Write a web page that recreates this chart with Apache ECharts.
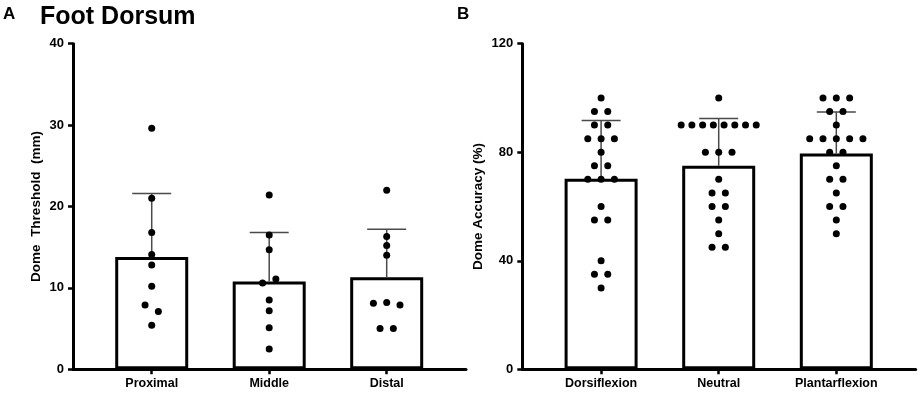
<!DOCTYPE html>
<html>
<head>
<meta charset="utf-8">
<script src="https://cdn.jsdelivr.net/npm/echarts@6/dist/echarts.min.js"></script>
<style>
html,body{margin:0;padding:0;background:#fff;}
#c{width:920px;height:393px;}
</style>
</head>
<body>
<div id="c"></div>
<script>
// ---- Data ----
const catsA = ['Proximal', 'Middle', 'Distal'];
const proximal = [29.6, 21.0, 16.8, 14.1, 12.8, 10.2, 7.9, 7.1, 5.4];
const middle = [21.4, 16.5, 14.7, 10.6, 11.1, 8.5, 7.2, 5.1, 2.5];
const distal = [22.0, 16.3, 15.2, 14.0, 8.1, 8.2, 7.9, 5.0, 5.0];
const meansA = [13.8, 10.8, 11.3];
const sdA = [7.8, 6.0, 5.9];
const ticksA = [0, 10, 20, 30, 40];

const catsB = ['Dorsiflexion', 'Neutral', 'Plantarflexion'];
const dorsiflexion = [100, 95, 95, 90, 90, 85, 85, 85, 80, 75, 75, 70, 70, 70, 60, 55, 55, 40, 35, 35, 30];
const neutral = [100, 90, 90, 90, 90, 90, 90, 90, 90, 80, 80, 80, 70, 65, 65, 60, 60, 55, 50, 45, 45];
const plantarflexion = [100, 100, 100, 95, 95, 90, 85, 85, 85, 85, 85, 80, 80, 75, 70, 70, 65, 60, 60, 55, 50];
const meansB = [70.2, 75.0, 79.5];
const sdB = [21.5, 17.4, 15.3];
const ticksB = [0, 40, 80, 120];

// ---- Layout helpers ----
const FONT = 'Liberation Sans, Arial, sans-serif';
const PX_X = 117.5;          // pixels per category unit
const DOT_STEP = 13.3;       // horizontal spacing of dots (px)
const MAX_SPAN = 75;         // max horizontal spread (px)
const OVERLAP = 7.5;         // vertical collision threshold (px)

function swarm(groups, pxPerUnitY) {
  const out = [];
  groups.forEach((vals, ci) => {
    const idx = vals.map((v, i) => i).sort((a, b) => vals[b] - vals[a] || a - b);
    let k = 0;
    while (k < idx.length) {
      const start = vals[idx[k]];
      const grp = [idx[k]];
      k++;
      while (k < idx.length && (start - vals[idx[k]]) * pxPerUnitY < OVERLAP) { grp.push(idx[k]); k++; }
      grp.sort((a, b) => a - b);
      const n = grp.length;
      const step = n > 1 ? Math.min(DOT_STEP, MAX_SPAN / (n - 1)) : 0;
      grp.forEach((g, j) => out.push([ci + (j - (n - 1) / 2) * step / PX_X, vals[g]]));
    }
  });
  return out;
}

function errRender(params, api) {
  const x = api.value(0), m = api.value(1), s = api.value(2);
  const p0 = api.coord([x, m]);
  const p1 = api.coord([x, m + s]);
  const st = { stroke: '#4a4a4a', lineWidth: 1.5 };
  return {
    type: 'group',
    children: [
      { type: 'line', shape: { x1: p0[0], y1: p0[1], x2: p1[0], y2: p1[1] }, style: st },
      { type: 'line', shape: { x1: p1[0] - 19.5, y1: p1[1], x2: p1[0] + 19.5, y2: p1[1] }, style: st }
    ]
  };
}

function xAxisDef(gi, cats) {
  return {
    type: 'value', gridIndex: gi, min: -0.67, max: 2.675,
    splitLine: { show: false },
    axisLine: { show: true, onZero: false, lineStyle: { color: '#000', width: 3 } },
    axisTick: { show: true, customValues: [0, 1, 2], length: 5, lineStyle: { color: '#000', width: 2.5 } },
    axisLabel: {
      customValues: [0, 1, 2], formatter: v => cats[Math.round(v)],
      fontSize: 12.5, fontWeight: 'bold', color: '#000', fontFamily: FONT, margin: 8
    }
  };
}

function yAxisDef(gi, ticks, name, gap) {
  return {
    type: 'value', gridIndex: gi, min: ticks[0], max: ticks[ticks.length - 1], interval: ticks[1] - ticks[0],
    splitLine: { show: false },
    axisLine: { show: true, onZero: false, lineStyle: { color: '#000', width: 3 } },
    axisTick: { show: true, length: 5, lineStyle: { color: '#000', width: 2.5 } },
    axisLabel: { fontSize: 13, fontWeight: 'bold', color: '#000', fontFamily: FONT, margin: 9 },
    name: name, nameLocation: 'middle', nameGap: gap,
    nameTextStyle: { fontSize: 13.5, fontWeight: 'bold', color: '#000', fontFamily: FONT }
  };
}

const dotsA = swarm([proximal, middle, distal], 325.6 / 40);
const dotsB = swarm([dorsiflexion, neutral, plantarflexion], 325.6 / 120);

const chart = echarts.init(document.getElementById('c'), null, { renderer: 'canvas' });
chart.setOption({
  animation: false,
  backgroundColor: '#fff',
  title: [
    { text: 'A', left: 3, top: 6, padding: 0, textStyle: { fontSize: 17, fontWeight: 'bold', color: '#000', fontFamily: FONT } },
    { text: 'Foot Dorsum', left: 40, top: 5, padding: 0, textStyle: { fontSize: 25, fontWeight: 'bold', color: '#000', fontFamily: FONT } },
    { text: 'B', left: 457, top: 6, padding: 0, textStyle: { fontSize: 17, fontWeight: 'bold', color: '#000', fontFamily: FONT } }
  ],
  grid: [
    { left: 73, right: 454, top: 43.7, bottom: 23.7 },
    { left: 522.3, right: 4.3, top: 43.7, bottom: 23.7 }
  ],
  xAxis: [xAxisDef(0, catsA), xAxisDef(1, catsB)],
  yAxis: [
    yAxisDef(0, ticksA, 'Dome  Threshold  (mm)', 30),
    yAxisDef(1, ticksB, 'Dome Accuracy (%)', 37)
  ],
  series: [
    {
      type: 'bar', xAxisIndex: 0, yAxisIndex: 0, barWidth: 73,
      data: meansA.map((m, i) => [i, m]),
      itemStyle: { color: '#fff', borderColor: '#000', borderWidth: 3 }
    },
    {
      type: 'custom', xAxisIndex: 0, yAxisIndex: 0, renderItem: errRender,
      data: meansA.map((m, i) => [i, m, sdA[i]]), encode: { x: 0, y: 1 }, z: 3
    },
    {
      type: 'scatter', xAxisIndex: 0, yAxisIndex: 0, data: dotsA,
      symbolSize: 7, itemStyle: { color: '#000', opacity: 1 }, z: 4
    },
    {
      type: 'bar', xAxisIndex: 1, yAxisIndex: 1, barWidth: 73,
      data: meansB.map((m, i) => [i, m]),
      itemStyle: { color: '#fff', borderColor: '#000', borderWidth: 3 }
    },
    {
      type: 'custom', xAxisIndex: 1, yAxisIndex: 1, renderItem: errRender,
      data: meansB.map((m, i) => [i, m, sdB[i]]), encode: { x: 0, y: 1 }, z: 3
    },
    {
      type: 'scatter', xAxisIndex: 1, yAxisIndex: 1, data: dotsB,
      symbolSize: 7, itemStyle: { color: '#000', opacity: 1 }, z: 4
    }
  ]
});
</script>
</body>
</html>
